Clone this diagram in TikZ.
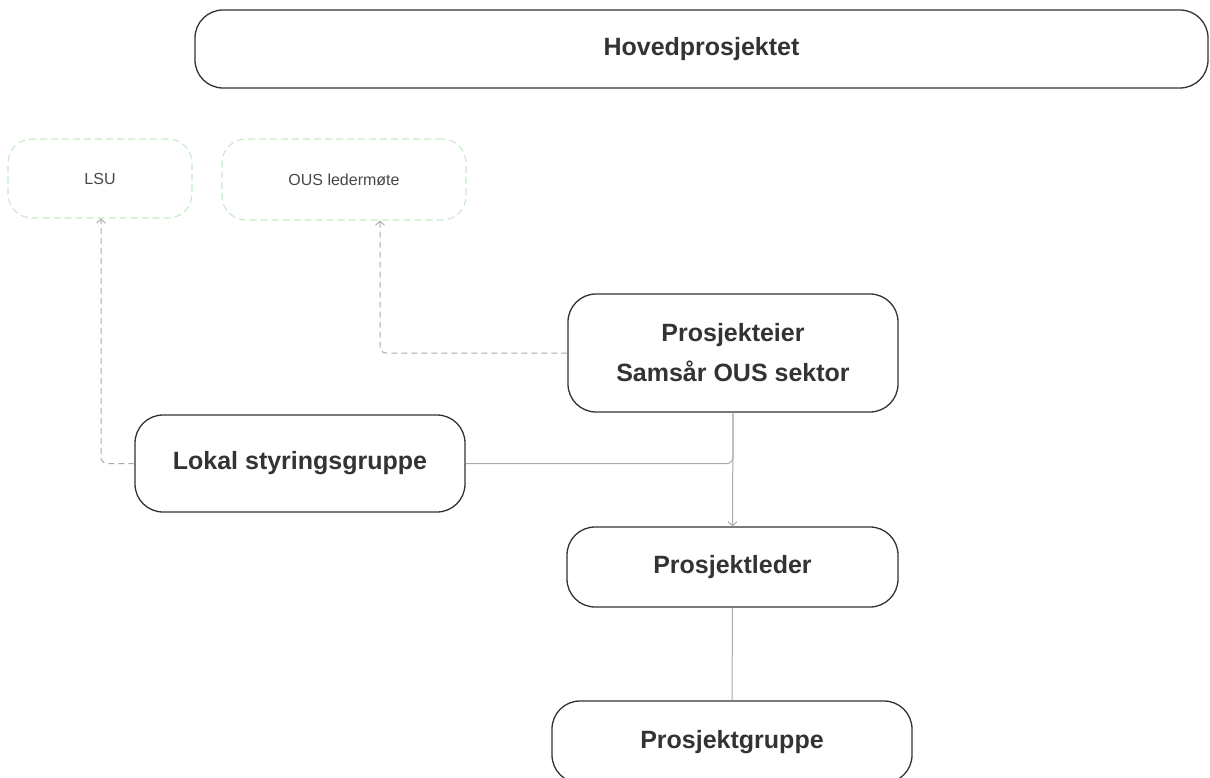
\documentclass[tikz,border=0pt]{standalone}
\usepackage{fontspec}
\setmainfont{Liberation Sans}
\usetikzlibrary{arrows.meta}

\definecolor{ink}{HTML}{333333}
\definecolor{wire}{HTML}{ABABAB}
\definecolor{mint}{HTML}{C6EAC6}

\tikzset{
  unit/.style={draw=ink, line width=1.3pt, rounded corners=28pt, align=center,
    text=ink, font=\bfseries\fontsize{25}{40}\selectfont, inner sep=0pt},
  forum/.style={draw=mint, dash pattern=on 7pt off 4pt, line width=1.1pt, rounded corners=24pt,
    text=ink!90, font=\fontsize{16}{20}\selectfont, inner sep=0pt},
  link/.style={draw=wire, line width=1pt, rounded corners=6pt},
  report/.style={link, dash pattern=on 6pt off 4pt, -{Straight Barb[length=4pt,width=9pt]}},
  flow/.style={link, -{Straight Barb[length=4pt,width=9pt]}}
}

\begin{document}
\begin{tikzpicture}[x=1pt, y=-1pt]
        % Keep the page at the size of the reference
        \useasboundingbox (0,0) rectangle (1210,778);
        \clip (0,0) rectangle (1210,778);

        % Top level
        \node[unit, minimum width=1013pt, minimum height=78pt] (hoved) at (701.5,49) {Hovedprosjektet};

        % Forums the project reports to
        \node[forum, minimum width=184pt, minimum height=79pt] (lsu) at (100,178.5) {LSU};
        \node[forum, minimum width=244pt, minimum height=81pt] (ous) at (344,179.5) {OUS ledermøte};

        % Project organisation
        \node[unit, minimum width=330pt, minimum height=118pt] (eier) at (733,353) {Prosjekteier\\Samsår OUS sektor};
        \node[unit, minimum width=330pt, minimum height=97pt] (lokal) at (300,463.5) {Lokal styringsgruppe};
        \node[unit, minimum width=331pt, minimum height=80pt] (leder) at (732.5,567) {Prosjektleder};
        \node[unit, minimum width=360pt, minimum height=82pt] (gruppe) at (732,742) {Prosjektgruppe};

        % Reporting lines
        \draw[report] (eier.west) -| ([xshift=36pt]ous.south);
        \draw[report] (lokal.west) -| ([xshift=1pt]lsu.south);

        % Line of command
        \draw[flow] (eier.south) -- (leder.north);
        \draw[link] (lokal.east) -| (eier.south);
        \draw[link] (leder.south) -- (gruppe.north);

      \end{tikzpicture}
\end{document}
